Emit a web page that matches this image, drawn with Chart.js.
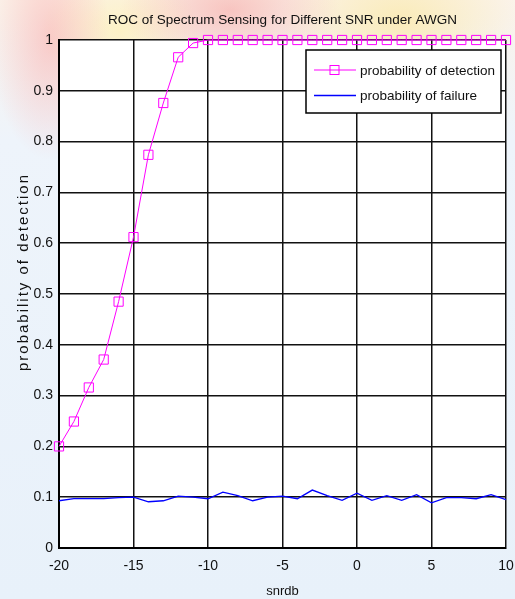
<!DOCTYPE html>
<html>
<head>
<meta charset="utf-8">
<script src="https://cdn.jsdelivr.net/npm/chart.js@4.4.0/dist/chart.umd.min.js"></script>
<style>
  html, body { margin: 0; padding: 0; }
  body {
    width: 515px; height: 599px; overflow: hidden;
    background:
      radial-gradient(ellipse 60px 120px at 50px 40px, rgba(250,170,170,0.55), rgba(250,170,170,0) 100%),
      radial-gradient(ellipse 110px 60px at 230px 10px, rgba(245,150,150,0.5), rgba(245,150,150,0) 100%),
      radial-gradient(ellipse 120px 70px at 400px 20px, rgba(250,230,150,0.6), rgba(250,230,150,0) 100%),
      radial-gradient(ellipse 80px 60px at 120px 30px, rgba(255,240,170,0.6), rgba(255,240,170,0) 100%),
      linear-gradient(to bottom, #fbf3ea 0px, #eef4fb 140px, #e8f1fa 599px);
  }
  canvas { display: block; }
</style>
</head>
<body>
<canvas id="grafica" width="515" height="599"></canvas>
<script>
// Eje X: relación señal a ruido en dB
const snrDb = [-20, -19, -18, -17, -16, -15, -14, -13, -12, -11, -10,
               -9, -8, -7, -6, -5, -4, -3, -2, -1, 0,
               1, 2, 3, 4, 5, 6, 7, 8, 9, 10];

// Probabilidad de detección
const probDetection = [0.200, 0.249, 0.316, 0.371, 0.485, 0.612, 0.774, 0.876, 0.966, 0.994, 1,
                       1, 1, 1, 1, 1, 1, 1, 1, 1, 1,
                       1, 1, 1, 1, 1, 1, 1, 1, 1, 1];

// Probabilidad de fallo
const probFailure = [0.093, 0.097, 0.097, 0.097, 0.099, 0.100, 0.091, 0.093, 0.102, 0.100, 0.097,
                     0.110, 0.103, 0.093, 0.100, 0.102, 0.097, 0.114, 0.103, 0.094, 0.108,
                     0.094, 0.103, 0.094, 0.105, 0.089, 0.099, 0.099, 0.097, 0.105, 0.095];

const etiquetas = ["probability of detection", "probability of failure"];
const tituloY = "probability of detection";
const tituloX = "snrdb";
const titulo = "ROC of Spectrum Sensing for Different SNR under AWGN";

const fuente = "'Liberation Sans', Arial, sans-serif";

// Fondo blanco del área de ejes
const fondoEjes = {
    id: 'fondoEjes',
    beforeDraw(chart) {
        const { ctx, chartArea: a } = chart;
        ctx.save();
        ctx.fillStyle = '#ffffff';
        ctx.fillRect(a.left, a.top, a.right - a.left, a.bottom - a.top);
        ctx.restore();
    }
};

// Títulos: el principal centrado sobre los ejes y el del eje Y con espaciado
const titulos = {
    id: 'titulos',
    afterDraw(chart) {
        const { ctx, chartArea: a } = chart;
        ctx.save();
        ctx.fillStyle = '#111';
        ctx.textAlign = 'center';
        ctx.textBaseline = 'middle';
        ctx.font = "13.5px " + fuente;
        ctx.fillText(titulo, (a.left + a.right) / 2, 20);

        ctx.translate(24, 272);
        ctx.rotate(-Math.PI / 2);
        ctx.font = "15px " + fuente;
        ctx.letterSpacing = '2px';
        ctx.fillText(tituloY, 0, 0);
        ctx.restore();
    }
};

// Leyenda dentro del área de ejes, con caja negra
const leyenda = {
    id: 'leyenda',
    afterDraw(chart) {
        const { ctx, chartArea: a } = chart;
        const x0 = a.right - 200, y0 = a.top + 10, w = 195, h = 63;
        ctx.save();
        ctx.fillStyle = '#ffffff';
        ctx.fillRect(x0, y0, w, h);
        ctx.strokeStyle = '#000';
        ctx.lineWidth = 1.5;
        ctx.strokeRect(x0, y0, w, h);
        ctx.font = "13.5px " + fuente;
        ctx.textBaseline = 'middle';
        chart.data.datasets.forEach((ds, i) => {
            const y = y0 + 20 + i * 25.5;
            ctx.strokeStyle = ds.borderColor;
            ctx.lineWidth = ds.borderWidth;
            ctx.beginPath();
            ctx.moveTo(x0 + 8, y);
            ctx.lineTo(x0 + 50, y);
            ctx.stroke();
            if (ds.pointRadius > 0) {
                ctx.strokeRect(x0 + 24, y - 4.5, 9, 9);
            }
            ctx.fillStyle = '#111';
            ctx.fillText(ds.label, x0 + 54, y + 1);
        });
        ctx.restore();
    }
};

const $grafica = document.querySelector("#grafica");

new Chart($grafica, {
    type: 'line',
    data: {
        labels: snrDb,
        datasets: [
            {
                label: etiquetas[0],
                data: probDetection,
                borderColor: '#ff00ff',
                borderWidth: 1,
                pointStyle: 'rect',
                pointRadius: 6.5,
                pointBorderWidth: 1,
                pointBackgroundColor: 'rgba(0,0,0,0)',
                pointBorderColor: '#ff00ff',
                tension: 0,
                fill: false,
                clip: false
            },
            {
                label: etiquetas[1],
                data: probFailure,
                borderColor: '#0000ff',
                borderWidth: 1.3,
                pointRadius: 0,
                tension: 0,
                fill: false
            }
        ]
    },
    options: {
        responsive: false,
        animation: false,
        devicePixelRatio: 1,
        layout: { autoPadding: false, padding: { left: 0, right: 0, top: 40, bottom: 0 } },
        plugins: {
            legend: { display: false },
            tooltip: { enabled: false },
            title: { display: false }
        },
        scales: {
            x: {
                type: 'linear',
                min: -20,
                max: 10,
                afterFit(scale) {
                    scale.height = 51;
                    scale.paddingRight = 9;
                },
                grid: { color: '#111', lineWidth: 1.5, drawTicks: false },
                border: { color: '#000', width: 2 },
                ticks: {
                    stepSize: 5,
                    color: '#111',
                    padding: 10,
                    maxRotation: 0,
                    font: { family: fuente, size: 14 }
                },
                title: {
                    display: true,
                    text: tituloX,
                    color: '#111',
                    font: { family: fuente, size: 13 },
                    padding: { top: 0, bottom: 0 }
                }
            },
            y: {
                min: 0,
                max: 1,
                afterFit(scale) { scale.width = 59; },
                grid: { color: '#111', lineWidth: 1.5, drawTicks: false },
                border: { color: '#000', width: 2 },
                ticks: {
                    stepSize: 0.1,
                    color: '#111',
                    padding: 6,
                    font: { family: fuente, size: 14 },
                    callback: (v) => String(Math.round(v * 10) / 10)
                }
            }
        }
    },
    plugins: [fondoEjes, titulos, leyenda]
});
</script>
</body>
</html>
